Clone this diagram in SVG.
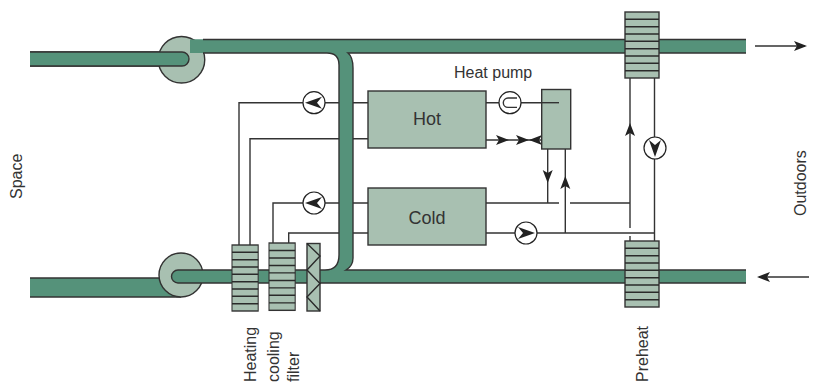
<svg xmlns="http://www.w3.org/2000/svg" xmlns:xlink="http://www.w3.org/1999/xlink" width="816" height="385" viewBox="0 0 816 385">
<style>
text{font-family:"Liberation Sans",Arial,sans-serif;font-size:16px;fill:#333}
.duct{fill:#55927a}
.edge{fill:none;stroke:#333;stroke-width:1.4}
.light{fill:#a8c0b1;stroke:#333;stroke-width:1.4}
.pipe{fill:none;stroke:#333;stroke-width:1.4}
.slat{fill:none;stroke:#2a2a2a;stroke-width:1.4}
.pump{fill:#fff;stroke:#222;stroke-width:1.2}
.head{fill:#222}
</style>
<defs>
<path id="ah" d="M7,0 L-6,-5 L-3,0 L-6,5 Z"/>
<path id="ph" d="M9,0 L-8,-6 L-3,0 L-8,6 Z"/>
<g id="coil"><rect class="light" x="0" y="0" width="34" height="66"/><path class="slat" d="M0,7.3H34M0,14.7H34M0,22H34M0,29.3H34M0,36.7H34M0,44H34M0,51.3H34M0,58.7H34"/></g>
</defs>
<g id="connectors">
<path class="pipe" d="M239,245V102.7H368M250,245V138.7H368M273,243V203H368M288.7,243V233H368"/>
<path class="pipe" d="M486,102.7H559M486,140H542M547.7,149V203M565.3,149V233M486,203H559M570,203H630M630,78V228M630,236V241M654.5,78V241M486,233H654.5"/>
<path class="pipe" d="M755,46H805M809,277H759"/>
<g class="head">
<use xlink:href="#ah" transform="translate(502,140)"/>
<use xlink:href="#ah" transform="translate(522,140)"/>
<use xlink:href="#ah" transform="translate(536,140) rotate(180)"/>
<use xlink:href="#ah" transform="translate(547.7,176) rotate(90)"/>
<use xlink:href="#ah" transform="translate(565.3,183) rotate(-90)"/>
<use xlink:href="#ah" transform="translate(630,130) rotate(-90)"/>
<use xlink:href="#ah" transform="translate(800,46)"/>
<use xlink:href="#ah" transform="translate(764,277) rotate(180)"/>
</g>
</g>
<g id="duct-return">
<path class="duct" d="M30,52H182A7,7 0 0 1 182,66H30Z"/>
<path class="edge" d="M30,52H182A7,7 0 0 1 182,66H30"/>
</g>
<g id="duct-supply-left">
<path class="duct" d="M30,278H181V297H30Z"/>
<path class="edge" d="M30,278H181M30,297H181"/>
</g>
<g id="fan-top"><circle class="light" cx="181.500" cy="59.500" r="22.500" style="display:none"/></g>
<g id="ducts">
<path class="duct" d="M190,39.500H746V53H348Q353,57 353,68V258Q353,266 346,270H746V283H178A6.500,6.500 0 0 1 178,270H325Q339,270 339,255V65Q339,53 327,53H190Z"/>
</g>
<g id="fan-top2"><path class="light" d="M181.500,36.500A23,23 0 1 0 181.500,83A23,23 0 1 0 181.500,36.500Z"/>
<path class="duct" d="M30,52H182A7,7 0 0 1 182,66H30Z"/><path class="edge" d="M30,52H182A7,7 0 0 1 182,66H30"/></g>
<g id="fan-bottom"><circle class="light" cx="181" cy="275" r="22"/></g>
<g id="duct-lines">
<path class="duct" d="M190,39.500H746V53H190ZM178,270H746V283H178A6.500,6.500 0 0 1 178,270Z"/>
<path class="edge" d="M203,39.500H746M746,53H348Q353,57 353,68V258Q353,266 346,270H746M746,283H178A6.500,6.500 0 0 1 178,270H325Q339,270 339,255V65Q339,53 327,53H203"/>
</g>
<g id="coil-heating"><use xlink:href="#coil" transform="translate(232,245) scale(.77,1)"/></g>
<g id="coil-cooling"><use xlink:href="#coil" transform="translate(269,243) scale(.77,1.02)"/></g>
<g id="filter"><rect class="light" x="307" y="243.500" width="13" height="67.500"/><path class="slat" d="M307,243.500L320,256L307,270L320,283.500L307,297L320,311"/></g>
<g id="coil-preheat-top"><use xlink:href="#coil" transform="translate(625,12)"/></g>
<g id="coil-preheat-bottom"><use xlink:href="#coil" transform="translate(625,241)"/></g>
<g id="hot"><rect class="light" x="368" y="91" width="118" height="57"/><text x="427" y="125" text-anchor="middle" style="font-size:18px">Hot</text></g>
<g id="cold"><rect class="light" x="368" y="188" width="118" height="57"/><text x="427" y="224" text-anchor="middle" style="font-size:18px">Cold</text></g>
<g id="heat-pump"><rect class="light" x="541.700" y="89.500" width="29" height="59.500"/><path class="pipe" d="M541.700,102.700H559"/></g>
<g id="pump1"><circle class="pump" cx="314" cy="102.700" r="11"/><use class="head" xlink:href="#ph" transform="translate(314,102.700) rotate(180)"/></g>
<g id="pump2"><circle class="pump" cx="314" cy="203" r="11"/><use class="head" xlink:href="#ph" transform="translate(314,203) rotate(180)"/></g>
<g id="pump3"><circle class="pump" cx="526" cy="233" r="11"/><use class="head" xlink:href="#ph" transform="translate(526,233)"/></g>
<g id="pump4"><circle class="pump" cx="655" cy="148" r="11"/><use class="head" xlink:href="#ph" transform="translate(655,148) rotate(90)"/></g>
<g id="compressor"><circle class="pump" cx="510" cy="102.700" r="11"/><path class="pipe" d="M517,98H508A4.700,4.700 0 0 0 508,107.400H517"/></g>
<g id="labels">
<text x="454" y="78">Heat pump</text>
<text transform="translate(22,199) rotate(-90)">Space</text>
<text transform="translate(806,216) rotate(-90)">Outdoors</text>
<text transform="translate(256,382) rotate(-90)">Heating</text>
<text transform="translate(279,382) rotate(-90)">cooling</text>
<text transform="translate(299,382) rotate(-90)">filter</text>
<text transform="translate(648,382) rotate(-90)">Preheat</text>
</g>
</svg>
